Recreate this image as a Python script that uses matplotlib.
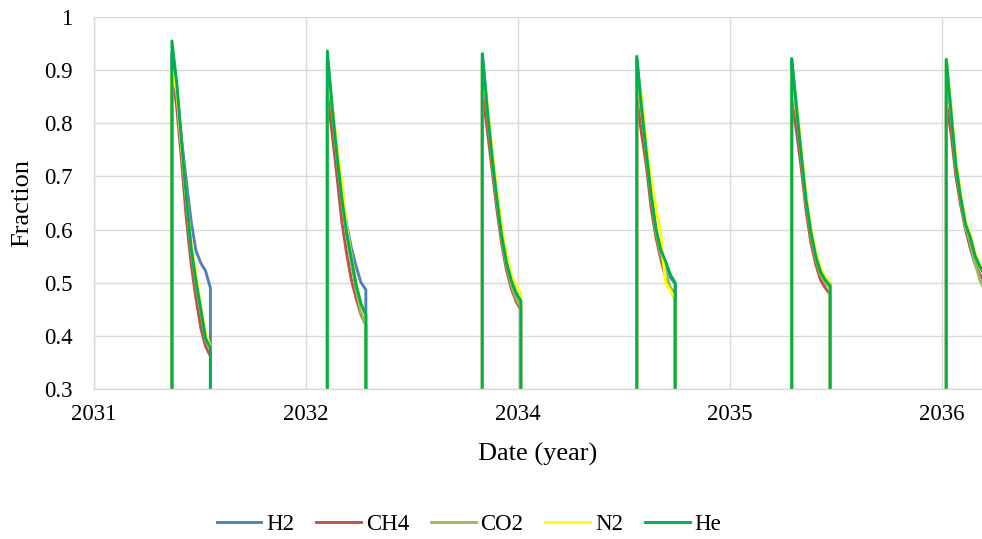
import numpy as np
import matplotlib
matplotlib.use("Agg")
import matplotlib.pyplot as plt

plt.rcParams['font.family'] = ['Liberation Serif', 'DejaVu Serif']

# start of each withdrawal cycle (decimal year) and its length
cycle_start = [2031.478, 2032.431, 2033.381, 2034.328, 2035.278, 2036.226]
cycle_length = 0.236
# sample points inside a cycle, as a fraction of its length
cycle_pos = [0, 0.125, 0.25, 0.375, 0.5, 0.625, 0.75, 0.875, 1.0]

# gas fractions per cycle
h2 = [
    [0.930, 0.865, 0.770, 0.690, 0.615, 0.560, 0.537, 0.522, 0.490],
    [0.916, 0.830, 0.745, 0.670, 0.610, 0.565, 0.530, 0.500, 0.487],
    [0.930, 0.832, 0.742, 0.662, 0.592, 0.542, 0.507, 0.482, 0.467],
    [0.924, 0.830, 0.745, 0.665, 0.600, 0.560, 0.535, 0.510, 0.498],
    [0.920, 0.830, 0.742, 0.658, 0.598, 0.553, 0.523, 0.508, 0.500],
    [0.918, 0.820, 0.720, 0.660, 0.610, 0.585, 0.550, 0.530, 0.515],
]
ch4 = [
    [0.905, 0.830, 0.730, 0.620, 0.535, 0.470, 0.415, 0.380, 0.362],
    [0.856, 0.780, 0.700, 0.615, 0.555, 0.505, 0.470, 0.440, 0.420],
    [0.860, 0.790, 0.715, 0.640, 0.575, 0.525, 0.490, 0.465, 0.450],
    [0.850, 0.780, 0.720, 0.640, 0.585, 0.545, 0.510, 0.490, 0.478],
    [0.845, 0.785, 0.715, 0.635, 0.575, 0.535, 0.505, 0.490, 0.478],
    [0.840, 0.780, 0.700, 0.645, 0.600, 0.565, 0.535, 0.515, 0.500],
]
co2 = [
    [0.930, 0.870, 0.760, 0.655, 0.560, 0.498, 0.445, 0.392, 0.375],
    [0.920, 0.825, 0.735, 0.655, 0.590, 0.538, 0.485, 0.445, 0.420],
    [0.920, 0.825, 0.735, 0.655, 0.585, 0.535, 0.497, 0.470, 0.455],
    [0.915, 0.825, 0.740, 0.660, 0.595, 0.555, 0.520, 0.490, 0.465],
    [0.910, 0.825, 0.735, 0.650, 0.590, 0.545, 0.515, 0.500, 0.490],
    [0.900, 0.815, 0.715, 0.655, 0.605, 0.575, 0.535, 0.505, 0.485],
]
n2 = [
    [0.900, 0.860, 0.755, 0.660, 0.575, 0.515, 0.455, 0.405, 0.380],
    [0.900, 0.835, 0.755, 0.690, 0.605, 0.550, 0.500, 0.460, 0.435],
    [0.900, 0.840, 0.755, 0.675, 0.605, 0.555, 0.515, 0.495, 0.480],
    [0.900, 0.850, 0.760, 0.695, 0.640, 0.590, 0.500, 0.485, 0.470],
    [0.900, 0.838, 0.750, 0.665, 0.603, 0.558, 0.528, 0.510, 0.500],
    [0.922, 0.830, 0.730, 0.668, 0.617, 0.590, 0.555, 0.535, 0.520],
]
he = [
    [0.955, 0.875, 0.765, 0.660, 0.565, 0.503, 0.450, 0.395, 0.378],
    [0.936, 0.830, 0.740, 0.660, 0.595, 0.545, 0.495, 0.460, 0.440],
    [0.931, 0.830, 0.740, 0.660, 0.590, 0.540, 0.505, 0.480, 0.466],
    [0.926, 0.830, 0.745, 0.665, 0.600, 0.562, 0.540, 0.515, 0.500],
    [0.922, 0.830, 0.740, 0.655, 0.595, 0.550, 0.520, 0.505, 0.494],
    [0.920, 0.820, 0.720, 0.660, 0.610, 0.585, 0.550, 0.530, 0.515],
]

gases = ['H2', 'CH4', 'CO2', 'N2', 'He']
colors = ['#4F81BD', '#C0504D', '#9BBB59', '#FFFF00', '#00B050']

xtick_pos = [2031.0, 2032.3, 2033.6, 2034.9, 2036.2]
xtick_labels = ['2031', '2032', '2034', '2035', '2036']
ytick_pos = [0.3, 0.4, 0.5, 0.6, 0.7, 0.8, 0.9, 1.0]
ytick_labels = ['0.3', '0.4', '0.5', '0.6', '0.7', '0.8', '0.9', '1']


def build_series(cycles):
    # fraction is zero outside the cycles, so every cycle rises and drops vertically
    xs, ys = [], []
    for start, vals in zip(cycle_start, cycles):
        t = start + np.array(cycle_pos) * cycle_length
        xs += [start] + list(t) + [t[-1]]
        ys += [0.0] + list(vals) + [0.0]
    return np.array(xs), np.array(ys)


fig = plt.figure(figsize=(9.82, 5.39), dpi=100)
ax = fig.add_axes([0.0957, 0.2783, 0.9043, 0.6902])

for name, data, c in zip(gases, [h2, ch4, co2, n2, he], colors):
    x, y = build_series(data)
    ax.plot(x, y, color=c, lw=2.1, label=name, solid_joinstyle='round')

ax.set_xlim(2031.0, 2036.445)
ax.set_ylim(0.3, 1.0)
ax.set_xticks(xtick_pos)
ax.set_xticklabels(xtick_labels)
ax.set_yticks(ytick_pos)
ax.set_yticklabels(ytick_labels)
ax.tick_params(length=0, labelsize=16.5)
ax.tick_params(axis='y', pad=15.5)
ax.tick_params(axis='x', pad=11)

ax.set_axisbelow(True)
ax.grid(True, color='#D9D9D9', lw=1.0)
for s in ['top', 'right']:
    ax.spines[s].set_visible(False)
for s in ['left', 'bottom']:
    ax.spines[s].set_color('#D9D9D9')
    ax.spines[s].set_linewidth(1.0)

ax.set_xlabel('Date (year)', fontsize=19, va='center')
ax.set_ylabel('Fraction', fontsize=19, va='center')
ax.xaxis.set_label_coords(0.5, -0.177)
ax.yaxis.set_label_coords(-0.081, 0.5)

fig.legend(loc='center', bbox_to_anchor=(0.4776, 0.027), ncol=5, frameon=False,
           fontsize=16.5, handlelength=1.95, handletextpad=0.22, columnspacing=0.95)

fig.savefig('out.png', dpi=100)
